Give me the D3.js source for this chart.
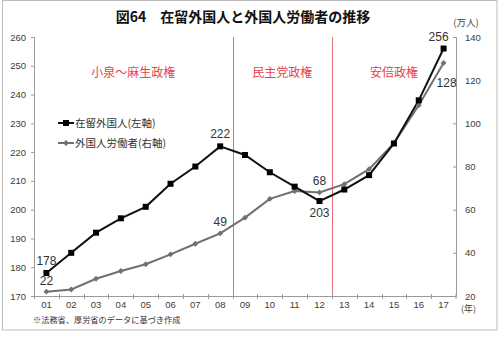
<!DOCTYPE html>
<html>
<head>
<meta charset="utf-8">
<script src="https://cdn.jsdelivr.net/npm/d3@7/dist/d3.min.js"></script>
<style>
  html, body { margin: 0; padding: 0; background: #fff; }
  svg { display: block; font-family: "Noto Sans CJK JP", "Noto Sans", sans-serif; }
</style>
</head>
<body>
<svg id="chart" width="500" height="337"></svg>
<script>
// Years (2001–2017) shown as two-digit labels
const years = ["01","02","03","04","05","06","07","08","09","10","11","12","13","14","15","16","17"];
// Foreign residents, 万人 (left axis)
const residents = [178, 185, 192, 197, 201, 209, 215, 222, 219, 213, 208, 203, 207, 212, 223, 238, 256];
// Foreign workers, 万人 (right axis)
const workers = [22, 23, 28, 31.6, 34.7, 39.3, 44.2, 49, 56.3, 65, 68.6, 68, 71.8, 78.8, 90.8, 108.4, 128];
const leftTicks = [170, 180, 190, 200, 210, 220, 230, 240, 250, 260];
const rightTicks = [20, 40, 60, 80, 100, 120, 140];
// Government periods: [first year, last year, label]
const periods = [
  {from: "01", to: "08", name: "小泉～麻生政権"},
  {from: "09", to: "12", name: "民主党政権"},
  {from: "13", to: "17", name: "安倍政権"}
];
// Values called out on the chart: year index and placement
const residentCallouts = [{i: 0, pos: "above"}, {i: 7, pos: "above"}, {i: 11, pos: "below"}, {i: 16, pos: "above"}];
const workerCallouts = [{i: 0, pos: "above"}, {i: 7, pos: "above"}, {i: 11, pos: "above"}, {i: 16, pos: "below"}];

const svg = d3.select("#chart");
const plot = {left: 34, right: 456, top: 37, bottom: 296};

const x = d3.scaleBand().domain(years).range([plot.left, plot.right]);
const yL = d3.scaleLinear().domain([170, 260]).range([plot.bottom, plot.top]);
const yR = d3.scaleLinear().domain([20, 140]).range([plot.bottom, plot.top]);
const cx = d => x(d) + x.bandwidth() / 2;

// Outer frame
svg.append("rect").attr("x", 2.5).attr("y", 0.5).attr("width", 494.5).attr("height", 329.5)
  .attr("fill", "#fff").attr("stroke", "#bdbdbd").attr("stroke-width", 1);

// Title
svg.append("text").attr("x", 243).attr("y", 22).attr("text-anchor", "middle")
  .attr("font-size", 14).attr("font-weight", "bold").attr("fill", "#111")
  .text("図64　在留外国人と外国人労働者の推移");

// Unit label
svg.append("text").attr("x", 466).attr("y", 26).attr("text-anchor", "middle")
  .attr("font-size", 9.5).attr("fill", "#444").text("(万人)");

// Period separators and captions
const red = "#e8424f";
periods.slice(1).forEach(p => {
  const xv = Math.round(x(p.from)) + 0.5;
  svg.append("line").attr("x1", xv).attr("x2", xv).attr("y1", plot.top).attr("y2", plot.bottom)
    .attr("stroke", "#e66b78").attr("stroke-width", 1);
});
periods.forEach(p => {
  const mid = (x(p.from) + x(p.to) + x.bandwidth()) / 2;
  svg.append("text").attr("x", mid).attr("y", 77).attr("text-anchor", "middle")
    .attr("font-size", 12).attr("fill", red).text(p.name);
});

// Axes
const axisColor = "#9a9a9a";
const gL = svg.append("g").attr("transform", `translate(${plot.left},0)`)
  .call(d3.axisLeft(yL).tickValues(leftTicks).tickSize(3).tickPadding(5));
const gR = svg.append("g").attr("transform", `translate(${plot.right},0)`)
  .call(d3.axisRight(yR).tickValues(rightTicks).tickSize(-3).tickPadding(9));
const gX = svg.append("g").attr("transform", `translate(0,${plot.bottom})`)
  .call(d3.axisBottom(x).tickSize(0).tickPadding(5));
[gL, gR, gX].forEach(g => {
  g.select(".domain").attr("stroke", axisColor);
  g.selectAll(".tick line").attr("stroke", axisColor);
  g.selectAll(".tick text").attr("fill", "#404040").attr("font-size", 9.5)
    .attr("font-family", "'Liberation Sans', sans-serif");
});
// Band boundary ticks on the x axis
gX.selectAll(".band-tick").data(years.concat(["end"])).enter().append("line")
  .attr("x1", (d, i) => i < years.length ? Math.round(x(d)) + 0.5 : plot.right)
  .attr("x2", (d, i) => i < years.length ? Math.round(x(d)) + 0.5 : plot.right)
  .attr("y1", -2).attr("y2", 3).attr("stroke", axisColor);

svg.append("text").attr("x", 461).attr("y", 311.5).attr("font-size", 9).attr("fill", "#404040")
  .text("(年)");

// Footnote
svg.append("text").attr("x", 33).attr("y", 323).attr("font-size", 8.2).attr("fill", "#333")
  .text("※法務省、厚労省のデータに基づき作成");

// Series
const lineR = d3.line().x((d, i) => cx(years[i])).y(d => yL(d));
const lineW = d3.line().x((d, i) => cx(years[i])).y(d => yR(d));
const grey = "#707070";

svg.append("path").datum(workers).attr("d", lineW).attr("fill", "none")
  .attr("stroke", grey).attr("stroke-width", 2);
svg.append("path").datum(residents).attr("d", lineR).attr("fill", "none")
  .attr("stroke", "#111").attr("stroke-width", 2);

svg.selectAll(".wm").data(workers).enter().append("path")
  .attr("transform", (d, i) => `translate(${cx(years[i])},${yR(d)})`)
  .attr("d", d3.symbol(d3.symbolDiamond2 || d3.symbolDiamond, 22)).attr("fill", grey);
svg.selectAll(".rm").data(residents).enter().append("rect")
  .attr("x", (d, i) => cx(years[i]) - 3).attr("y", d => yL(d) - 3)
  .attr("width", 6).attr("height", 6).attr("fill", "#000");

// Value callouts
const labelFont = "'Liberation Sans', sans-serif";
residentCallouts.forEach(c => {
  const v = residents[c.i];
  const dx = c.i === 16 ? -5 : 0;
  svg.append("text").attr("x", cx(years[c.i]) + dx)
    .attr("y", yL(v) + (c.pos === "above" ? -8 : 16))
    .attr("text-anchor", "middle").attr("font-size", 12).attr("font-family", labelFont)
    .attr("fill", "#333").text(d3.format("d")(v));
});
workerCallouts.forEach(c => {
  const v = workers[c.i];
  const dx = c.i === 16 ? 3 : 0;
  svg.append("text").attr("x", cx(years[c.i]) + dx)
    .attr("y", yR(v) + (c.pos === "above" ? -7 : 24))
    .attr("text-anchor", "middle").attr("font-size", 12).attr("font-family", labelFont)
    .attr("fill", "#333").text(d3.format("d")(v));
});

// Legend
const legend = [
  {name: "在留外国人(左軸)", color: "#111", shape: "square"},
  {name: "外国人労働者(右軸)", color: grey, shape: "diamond"}
];
legend.forEach((l, i) => {
  const ly = 123 + i * 20;
  svg.append("line").attr("x1", 58).attr("x2", 74).attr("y1", ly).attr("y2", ly)
    .attr("stroke", l.color).attr("stroke-width", 2);
  if (l.shape === "square") {
    svg.append("rect").attr("x", 63).attr("y", ly - 3).attr("width", 6).attr("height", 6).attr("fill", "#000");
  } else {
    svg.append("path").attr("transform", `translate(66,${ly})`)
      .attr("d", d3.symbol(d3.symbolDiamond2 || d3.symbolDiamond, 22)).attr("fill", l.color);
  }
  svg.append("text").attr("x", 75).attr("y", ly + 4).attr("font-size", 10.5).attr("fill", "#333")
    .text(l.name);
});
</script>
</body>
</html>
